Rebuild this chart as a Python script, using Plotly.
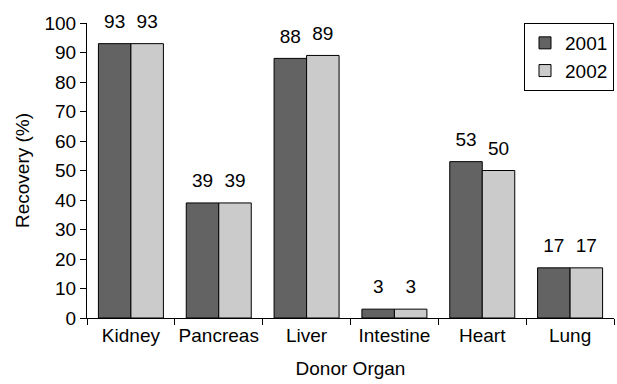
import plotly.graph_objects as go

organs = ["Kidney", "Pancreas", "Liver", "Intestine", "Heart", "Lung"]
rec_2001 = [93, 39, 88, 3, 53, 17]
rec_2002 = [93, 39, 89, 3, 50, 17]

font = dict(family="Liberation Sans, Arial, sans-serif", size=19, color="#000")

fig = go.Figure()
for name, vals, col in [("2001", rec_2001, "#636363"), ("2002", rec_2002, "#cbcbcb")]:
    fig.add_bar(x=organs, y=vals, name=name, offsetgroup=name,
                marker=dict(color=col, line=dict(color="#000", width=1)))
    # value labels sitting a little above each bar
    fig.add_scatter(x=organs, y=vals, mode="markers+text", offsetgroup=name,
                    text=[str(v) for v in vals], textposition="top center",
                    marker=dict(size=16, opacity=0), textfont=font,
                    showlegend=False, hoverinfo="skip", cliponaxis=False)

fig.update_layout(
    width=617, height=384,
    margin=dict(l=87, r=3, t=23, b=66),
    plot_bgcolor="white", paper_bgcolor="white",
    font=font,
    barmode="group", bargap=0.26, bargroupgap=0,
    scattermode="group", scattergap=0.26,
    legend=dict(x=1.0, y=1.0, xanchor="right", yanchor="top",
                bordercolor="#000", borderwidth=1, bgcolor="white",
                font=font, itemwidth=30, tracegroupgap=0),
    xaxis=dict(title=dict(text="Donor Organ", font=font, standoff=16),
               showline=True, linecolor="#000", linewidth=1,
               ticks="outside", tickson="boundaries", ticklen=6,
               tickcolor="#000", showgrid=False, tickangle=0,
               automargin=False),
    yaxis=dict(title=dict(text="Recovery (%)", font=font, standoff=9),
               range=[0, 100], dtick=10, showline=True, linecolor="#000",
               linewidth=1, ticks="outside", ticklen=6, tickcolor="#000",
               showgrid=False, zeroline=False),
)

fig.write_html("out.html")
